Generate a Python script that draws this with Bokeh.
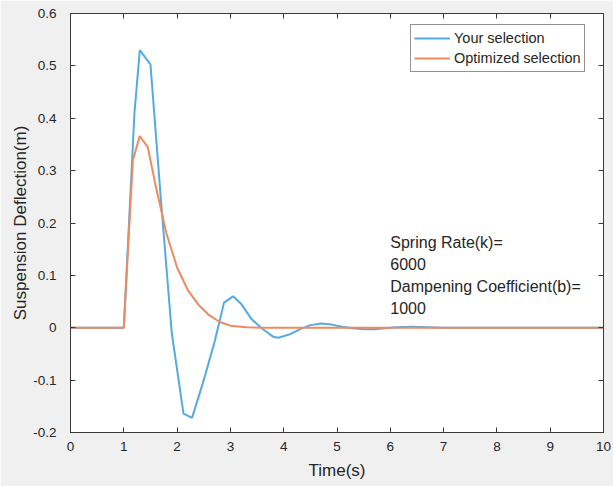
from bokeh.plotting import figure
from bokeh.models import LinearAxis, Label, Legend, LegendItem, ColumnDataSource, FixedTicker
from bokeh.embed import file_html
from bokeh.resources import INLINE

# --- data ---
t_your = [0, 1.0, 1.2, 1.3, 1.5, 1.7, 1.9, 2.12, 2.28, 2.5, 2.7, 2.88, 3.05, 3.2, 3.4, 3.6, 3.8,
          3.9, 4.1, 4.3, 4.5, 4.7, 4.9, 5.1, 5.3, 5.5, 5.7, 5.9, 6.1, 6.4, 6.7, 7.0, 8.0, 9.0, 10.0]
d_your = [0, 0, 0.41, 0.53, 0.503, 0.24, -0.01, -0.164, -0.172, -0.1, -0.028, 0.048, 0.06, 0.046,
          0.016, -0.002, -0.017, -0.019, -0.013, -0.003, 0.005, 0.008, 0.006, 0.002, -0.001, -0.003,
          -0.003, -0.001, 0.001, 0.002, 0.001, 0, 0, 0, 0]

t_opt = [0, 1.0, 1.17, 1.3, 1.45, 1.6, 1.8, 2.0, 2.2, 2.4, 2.6, 2.8, 3.0, 3.3, 3.6, 4.0, 10.0]
d_opt = [0, 0, 0.32, 0.366, 0.345, 0.27, 0.18, 0.115, 0.072, 0.044, 0.024, 0.011, 0.004, 0.001, 0, 0, 0]

series_names = ["Your selection", "Optimized selection"]
x_ticks = [0, 1, 2, 3, 4, 5, 6, 7, 8, 9, 10]
x_tick_labels = ["0", "1", "2", "3", "4", "5", "6", "7", "8", "9", "10"]
y_ticks = [-0.2, -0.1, 0, 0.1, 0.2, 0.3, 0.4, 0.5, 0.6]
y_tick_labels = ["-0.2", "-0.1", "0", "0.1", "0.2", "0.3", "0.4", "0.5", "0.6"]
note_lines = ["Spring Rate(k)=", "6000", "Dampening Coefficient(b)=", "1000"]
note_x = 6.0
note_y = 0.1

FONT = "Liberation Sans"
BG = "#f0f0f0"
AX = "#3a3a3a"
TXT = "#262626"
BLUE = "#55abe0"
ORANGE = "#ef8a60"

p = figure(width=613, height=486, output_backend="svg", toolbar_location=None,
           x_range=(0, 10), y_range=(-0.2, 0.6),
           min_border_left=70, min_border_top=13, min_border_right=10, min_border_bottom=54,
           background_fill_color="white", border_fill_color=BG)
p.xgrid.visible = False
p.ygrid.visible = False
p.outline_line_color = AX
p.outline_line_width = 1

src_y = ColumnDataSource(dict(t=t_your, d=d_your))
src_o = ColumnDataSource(dict(t=t_opt, d=d_opt))
r1 = p.line("t", "d", source=src_y, line_color=BLUE, line_width=2)
r2 = p.line("t", "d", source=src_o, line_color=ORANGE, line_width=2)

def style_axis(ax, ticks, labels, show_labels=True):
    ax.ticker = FixedTicker(ticks=ticks)
    ax.major_label_overrides = {tk: lb for tk, lb in zip(ticks, labels)}
    ax.axis_line_color = AX
    ax.major_tick_line_color = AX
    ax.major_tick_in = 5
    ax.major_tick_out = 0
    ax.minor_tick_line_color = None
    ax.major_label_text_font = FONT
    ax.major_label_text_font_size = "13.5px"
    ax.major_label_text_color = TXT
    if not show_labels:
        ax.major_label_text_font_size = "0px"
        ax.major_label_standoff = 0
        ax.axis_label = None

xa = p.xaxis[0]
style_axis(xa, x_ticks, x_tick_labels)
xa.major_label_standoff = 9
xa.axis_label = "Time(s)"
xa.axis_label_text_font = FONT
xa.axis_label_text_font_size = "17px"
xa.axis_label_text_font_style = "normal"
xa.axis_label_text_color = TXT
xa.axis_label_standoff = 7

ya = p.yaxis[0]
style_axis(ya, y_ticks, y_tick_labels)
ya.major_label_standoff = 14
ya.axis_label = "Suspension Deflection(m)"
ya.axis_label_text_font = FONT
ya.axis_label_text_font_size = "17px"
ya.axis_label_text_font_style = "normal"
ya.axis_label_text_color = TXT
ya.axis_label_standoff = 0

top = LinearAxis()
style_axis(top, x_ticks, [""] * len(x_ticks), show_labels=False)
p.add_layout(top, "above")
right = LinearAxis()
style_axis(right, y_ticks, [""] * len(y_ticks), show_labels=False)
p.add_layout(right, "right")

legend = Legend(items=[LegendItem(label=series_names[0], renderers=[r1]),
                       LegendItem(label=series_names[1], renderers=[r2])],
                location=(340, 360))
legend.margin = 0
legend.padding = 3
legend.spacing = 0
legend.label_height = 20
legend.glyph_height = 20
legend.glyph_width = 36
legend.label_standoff = 4
legend.label_text_font = FONT
legend.label_text_font_size = "14.5px"
legend.label_text_color = TXT
legend.border_line_color = TXT
legend.border_line_width = 1
legend.background_fill_color = "white"
legend.background_fill_alpha = 1
p.add_layout(legend)

offsets = [33, 11, -11, -33]
for line, off in zip(note_lines, offsets):
    p.add_layout(Label(x=note_x, y=note_y, y_offset=off, text=line,
                       text_font=FONT, text_font_size="16px", text_color=TXT,
                       text_baseline="middle", text_align="left"))

html = file_html(p, INLINE)
html = html.replace("<body>", '<body style="background-color:%s;">' % BG, 1)
open("out.html", "w").write(html)
